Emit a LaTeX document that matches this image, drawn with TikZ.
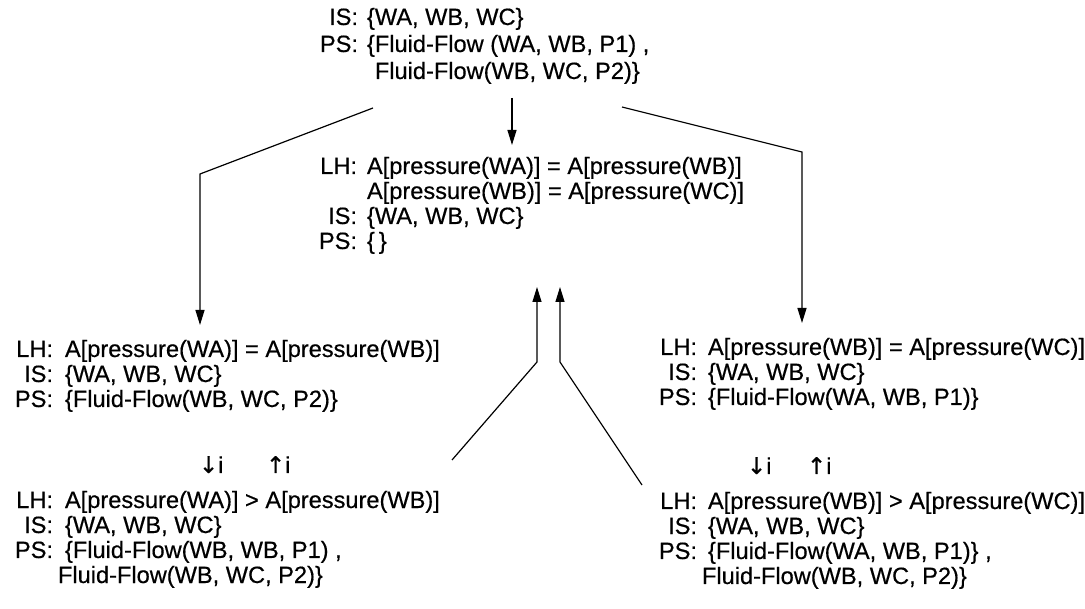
\documentclass[tikz,border=0pt]{standalone}
\usepackage{fontspec}
\setmainfont{Liberation Sans}[FakeBold=0.5]
\newfontfamily\arrowfont{DejaVu Sans}[FakeBold=0.5]
\usetikzlibrary{arrows.meta}
\newcommand\lab[1]{\makebox[40pt][r]{#1}}
\begin{document}
\begin{tikzpicture}[x=1pt,y=-1pt,
  blk/.style={anchor=base west,inner sep=0pt,outer sep=0pt,font=\fontsize{23.6}{25}\selectfont},
  conn/.style={line width=1.2pt},
  arr/.style={conn,-{Triangle[length=15pt,width=9pt]}},
  itag/.style={anchor=base west,inner sep=0pt,outer sep=0pt,font=\fontsize{23}{25}\selectfont}
]
\useasboundingbox (0,0) rectangle (1085,609);

% top block
\node[blk] (top) at (318,25) {\begin{tabular}[t]{@{}l@{\hspace{9pt}}l@{}}
\lab{IS:} & \{WA, WB, WC\}\\[2pt]
\lab{PS:} & \{Fluid-Flow (WA, WB, P1) ,\\[2pt]
 & \phantom{\{}Fluid-Flow(WB, WC, P2)\}
\end{tabular}};

% middle block
\node[blk] (mid) at (317,174) {\begin{tabular}[t]{@{}l@{\hspace{10pt}}l@{}}
\lab{LH:} & A[pressure(WA)] = A[pressure(WB)]\\
 & A[pressure(WB)] = A[pressure(WC)]\\
\lab{IS:} & \{WA, WB, WC\}\\
\lab{PS:} & \{\,\}
\end{tabular}};

% left block
\node[blk] (left) at (13,357) {\begin{tabular}[t]{@{}l@{\hspace{12pt}}l@{}}
\lab{LH:} & A[pressure(WA)] = A[pressure(WB)]\\
\lab{IS:} & \{WA, WB, WC\}\\
\lab{PS:} & \{Fluid-Flow(WB, WC, P2)\}
\end{tabular}};

% right block
\node[blk] (right) at (657,355) {\begin{tabular}[t]{@{}l@{\hspace{11pt}}l@{}}
\lab{LH:} & A[pressure(WB)] = A[pressure(WC)]\\
\lab{IS:} & \{WA, WB, WC\}\\
\lab{PS:} & \{Fluid-Flow(WA, WB, P1)\}
\end{tabular}};

% bottom left block
\node[blk] (bleft) at (13,508) {\begin{tabular}[t]{@{}l@{\hspace{12pt}}l@{}}
\lab{LH:} & A[pressure(WA)] {>} A[pressure(WB)]\\
\lab{IS:} & \{WA, WB, WC\}\\
\lab{PS:} & \{Fluid-Flow(WB, WB, P1) ,\\
 & \hspace{-7pt}Fluid-Flow(WB, WC, P2)\}
\end{tabular}};

% bottom right block
\node[blk] (bright) at (657,509) {\begin{tabular}[t]{@{}l@{\hspace{11pt}}l@{}}
\lab{LH:} & A[pressure(WB)] {>} A[pressure(WC)]\\
\lab{IS:} & \{WA, WB, WC\}\\
\lab{PS:} & \{Fluid-Flow(WA, WB, P1)\} ,\\
 & \hspace{-6pt}Fluid-Flow(WB, WC, P2)\}
\end{tabular}};

% i tags
\node[itag] (ldn) at (199,473) {{\arrowfont ↓}i};
\node[itag] (lup) at (266,473) {{\arrowfont ↑}i};
\node[itag] (rdn) at (747,474) {{\arrowfont ↓}i};
\node[itag] (rup) at (807,474) {{\arrowfont ↑}i};

% connector points
\coordinate (tA) at (512,98);
\coordinate (mA) at (512,145);
\coordinate (tL) at (373,108);
\coordinate (kL) at (200,174);
\coordinate (lA) at (200,325);
\coordinate (tR) at (622,107);
\coordinate (kR) at (802,152);
\coordinate (rA) at (802,323);
\coordinate (bL) at (452,460);
\coordinate (kU1) at (537,362);
\coordinate (uA1) at (537,287);
\coordinate (bR) at (642,485);
\coordinate (kU2) at (560,362);
\coordinate (uA2) at (560,287);

\draw[arr] (tA) -- (mA);
\draw[arr] (tL) -- (kL) -- (lA);
\draw[arr] (tR) -- (kR) -- (rA);
\draw[arr] (bL) -- (kU1) -- (uA1);
\draw[arr] (bR) -- (kU2) -- (uA2);
\end{tikzpicture}
\end{document}
